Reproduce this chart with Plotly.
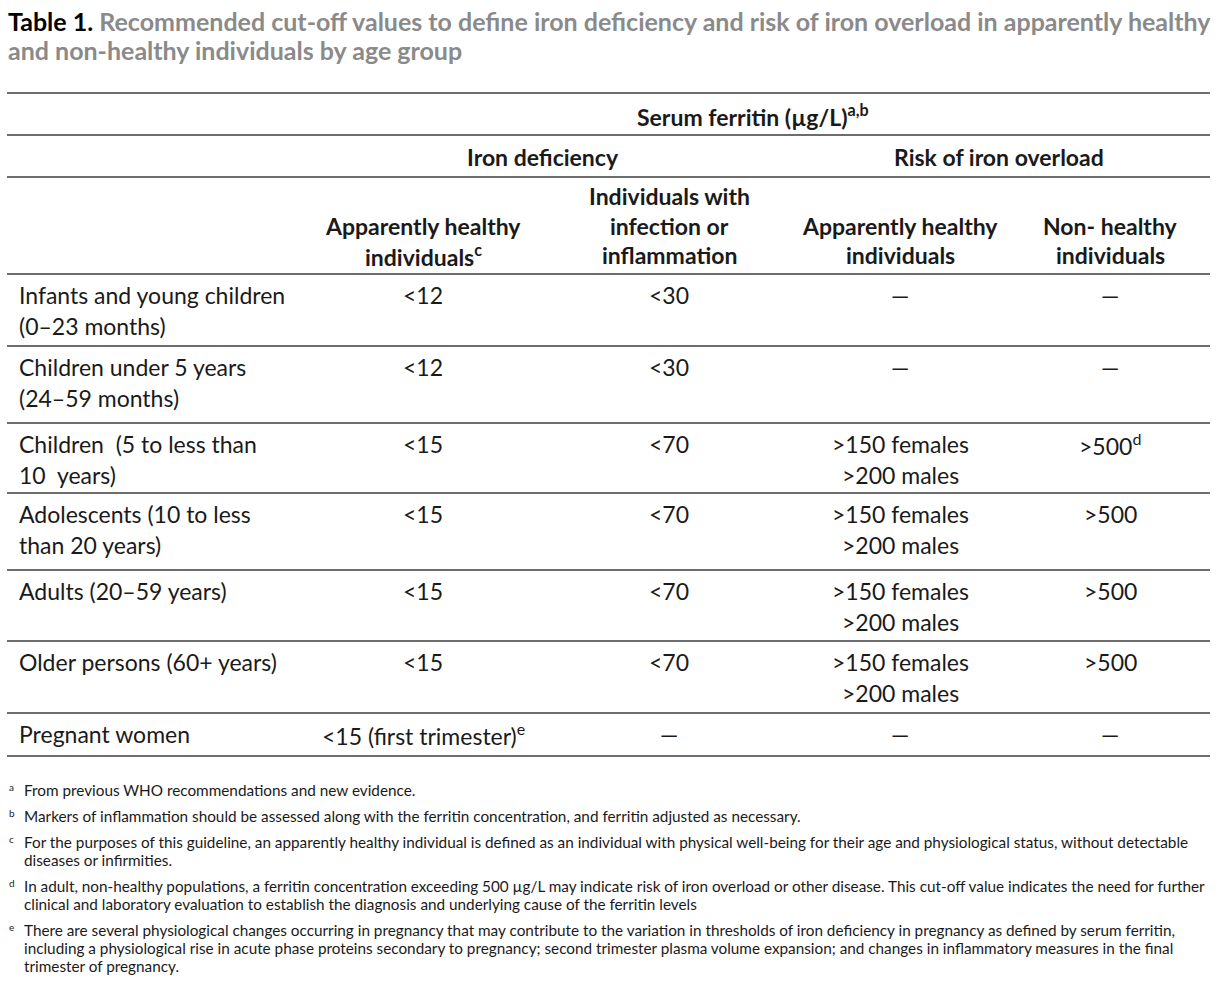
import plotly.graph_objects as go

# ---- data ----
title_label = "Table 1."
title_lines = ["Recommended cut-off values to define iron deficiency and risk of iron overload in apparently healthy",
               "and non-healthy individuals by age group"]

group_header = "Serum ferritin (µg/L)<sup>a,b</sup>"
sub_headers = ["Iron deficiency", "Risk of iron overload"]
col_headers = [
    ["Apparently healthy", "individuals<sup>c</sup>"],
    ["Individuals with", "infection or", "inflammation"],
    ["Apparently healthy", "individuals"],
    ["Non- healthy", "individuals"],
]

age_groups = [
    ["Infants and young children", "(0–23 months)"],
    ["Children under 5 years", "(24–59 months)"],
    ["Children &nbsp;(5 to less than", "10 &nbsp;years)"],
    ["Adolescents (10 to less", "than 20 years)"],
    ["Adults (20–59 years)"],
    ["Older persons (60+ years)"],
    ["Pregnant women"],
]
deficiency_healthy = [["&lt;12"], ["&lt;12"], ["&lt;15"], ["&lt;15"], ["&lt;15"], ["&lt;15"],
                      ["&lt;15 (first trimester)<sup>e</sup>"]]
deficiency_inflamed = [["&lt;30"], ["&lt;30"], ["&lt;70"], ["&lt;70"], ["&lt;70"], ["&lt;70"], ["—"]]
overload_healthy = [["—"], ["—"],
                    ["&gt;150 females", "&gt;200 males"],
                    ["&gt;150 females", "&gt;200 males"],
                    ["&gt;150 females", "&gt;200 males"],
                    ["&gt;150 females", "&gt;200 males"],
                    ["—"]]
overload_nonhealthy = [["—"], ["—"], ["&gt;500<sup>d</sup>"], ["&gt;500"], ["&gt;500"], ["&gt;500"], ["—"]]

footnotes = [
    ("a", ["From previous WHO recommendations and new evidence."]),
    ("b", ["Markers of inflammation should be assessed along with the ferritin concentration, and ferritin adjusted as necessary."]),
    ("c", ["For the purposes of this guideline, an apparently healthy individual is defined as an individual with physical well-being for their age and physiological status, without detectable",
           "diseases or infirmities."]),
    ("d", ["In adult, non-healthy populations, a ferritin concentration exceeding 500 µg/L may indicate risk of iron overload or other disease. This cut-off value indicates the need for further",
           "clinical and laboratory evaluation to establish the diagnosis and underlying cause of the ferritin levels"]),
    ("e", ["There are several physiological changes occurring in pregnancy that may contribute to the variation in thresholds of iron deficiency in pregnancy as defined by serum ferritin,",
           "including a physiological rise in acute phase proteins secondary to pregnancy; second trimester plasma volume expansion; and changes in inflammatory measures in the final",
           "trimester of pregnancy."]),
]

# ---- layout (pixel space) ----
W, H = 1222, 987
FONT = "Lato"
LEFT, RIGHT = 7, 1210
col_x = [423, 669, 900, 1110]
row_top = [274, 346, 423, 493, 570, 641, 713]
row_bottom = 756
line_gap = 31
body_size = 23
ink = "#1a1a1a"
rule = "#3c3c3c"

fig = go.Figure()
ann = []


def text(x, y, s, size=body_size, color=ink, bold=False, xanchor="center", yanchor="middle"):
    ann.append(dict(x=x, y=y, xref="x", yref="y", text=s, showarrow=False,
                    xanchor=xanchor, yanchor=yanchor,
                    font=dict(family=FONT, size=size, color=color,
                              weight="bold" if bold else "normal")))


# title
text(LEFT - 1, 21, f"<b><span style='color:#000000'>{title_label}</span> {title_lines[0]}</b>",
     size=25, color="#8a8a8a", xanchor="left")
text(LEFT - 1, 50, f"<b>{title_lines[1]}</b>", size=25, color="#8a8a8a", xanchor="left")

# header
text(753, 115, group_header, bold=True)
text(543, 157, sub_headers[0], bold=True)
text(999, 157, sub_headers[1], bold=True)
for cx, lines in zip(col_x, col_headers):
    for k, s in enumerate(reversed(lines)):
        text(cx, 255 - k * 29.5, s, bold=True)

# body
columns = [deficiency_healthy, deficiency_inflamed, overload_healthy, overload_nonhealthy]
for i, top in enumerate(row_top):
    y0 = top + 21
    for k, s in enumerate(age_groups[i]):
        text(17, y0 + k * line_gap, s, xanchor="left")
    for cx, col in zip(col_x, columns):
        for k, s in enumerate(col[i]):
            text(cx, y0 + k * line_gap, s)

# footnotes
fn_y = 790
for letter, lines in footnotes:
    text(7, fn_y - 3, letter, size=10, xanchor="left")
    for k, s in enumerate(lines):
        text(22, fn_y + k * 18, s, size=15.3, xanchor="left")
    fn_y += 18 * (len(lines) - 1) + 26

fig.update_layout(annotations=ann)

# horizontal rules
shapes = []
for y in [93, 135, 177, 274] + row_top[1:] + [row_bottom]:
    shapes.append(dict(type="line", xref="x", yref="y", x0=LEFT, x1=RIGHT, y0=y, y1=y,
                       line=dict(color=rule, width=1.6)))
fig.update_layout(shapes=shapes)

fig.update_layout(
    width=W, height=H,
    margin=dict(l=0, r=0, t=0, b=0),
    paper_bgcolor="white", plot_bgcolor="white",
    xaxis=dict(range=[0, W], visible=False, fixedrange=True),
    yaxis=dict(range=[H, 0], visible=False, fixedrange=True),
    showlegend=False,
)

# page body margin removed so the figure sits at the window origin
fig.write_html("out.html", config={"displayModeBar": False},
               post_script="document.body.style.margin='0';")
